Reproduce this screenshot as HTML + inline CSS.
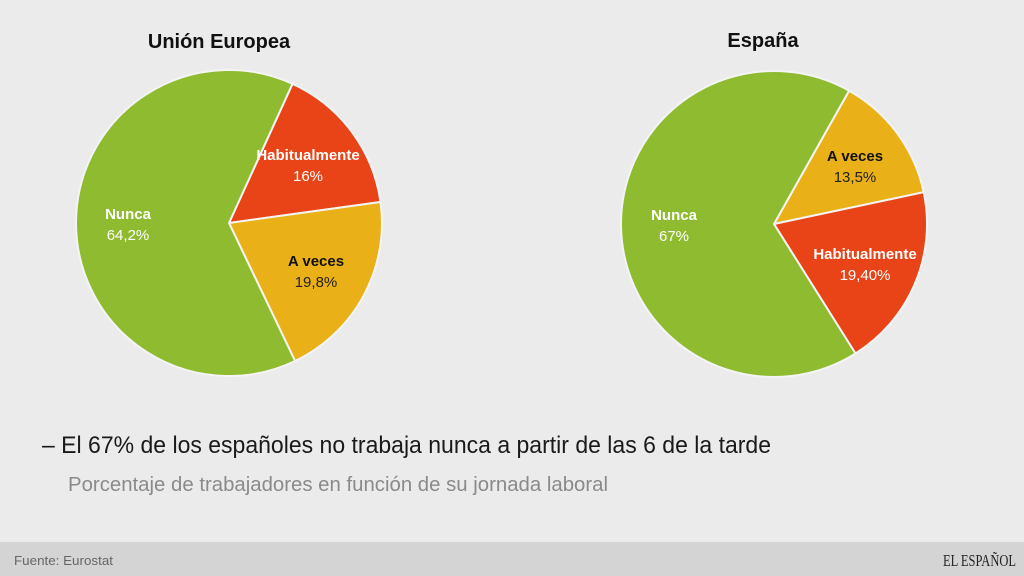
<!DOCTYPE html>
<html><head><meta charset="utf-8"><style>
html,body{margin:0;padding:0;width:1024px;height:576px;overflow:hidden;background:#ebebeb;font-family:"Liberation Sans",sans-serif}
.foot{position:absolute;left:0;top:542px;width:1024px;height:34px;background:#d4d4d4}
</style></head><body>
<svg width="1024" height="576" style="position:absolute;left:0;top:0" font-family="Liberation Sans, sans-serif">
<text x="219" y="48" font-size="20" font-weight="bold" text-anchor="middle" fill="#111">Unión Europea</text>
<text x="763" y="47" font-size="20" font-weight="bold" text-anchor="middle" fill="#111">España</text>
<g stroke="#f4f4f4" stroke-width="2" stroke-linejoin="round">
<path d="M229,223 L292.5,83.8 A153,153 0 0 1 380.5,202 Z" fill="#e84417"/>
<path d="M229,223 L380.5,202 A153,153 0 0 1 295.1,361 Z" fill="#e9b117"/>
<path d="M229,223 L295.1,361 A153,153 0 1 1 292.5,83.8 Z" fill="#8fbb30"/>
<path d="M774,224 L849.1,90.7 A153,153 0 0 1 923.7,192.2 Z" fill="#e9b117"/>
<path d="M774,224 L923.7,192.2 A153,153 0 0 1 855.5,353.5 Z" fill="#e84417"/>
<path d="M774,224 L855.5,353.5 A153,153 0 1 1 849.1,90.7 Z" fill="#8fbb30"/>
</g>
<g font-size="15" text-anchor="middle">
<text x="128" y="219" font-weight="bold" fill="#fff">Nunca</text>
<text x="128" y="240" fill="#fff">64,2%</text>
<text x="308" y="160" font-weight="bold" fill="#fff">Habitualmente</text>
<text x="308" y="181" fill="#fff">16%</text>
<text x="316" y="266" font-weight="bold" fill="#111">A veces</text>
<text x="316" y="287" fill="#222">19,8%</text>
<text x="674" y="220" font-weight="bold" fill="#fff">Nunca</text>
<text x="674" y="241" fill="#fff">67%</text>
<text x="855" y="161" font-weight="bold" fill="#111">A veces</text>
<text x="855" y="182" fill="#222">13,5%</text>
<text x="865" y="259" font-weight="bold" fill="#fff">Habitualmente</text>
<text x="865" y="280" fill="#fff">19,40%</text>
</g>
<text x="42" y="453" font-size="24" font-weight="500" fill="#1a1a1a" textLength="729" lengthAdjust="spacingAndGlyphs">– El 67% de los españoles no trabaja nunca a partir de las 6 de la tarde</text>
<text x="68" y="491" font-size="20" fill="#8a8a8a" textLength="540" lengthAdjust="spacingAndGlyphs">Porcentaje de trabajadores en función de su jornada laboral</text>
</svg>
<div class="foot"></div>
<svg width="1024" height="576" style="position:absolute;left:0;top:0">
<text x="14" y="565" font-family="Liberation Sans, sans-serif" font-size="13" fill="#666" textLength="99" lengthAdjust="spacingAndGlyphs">Fuente: Eurostat</text>
<text x="943" y="566" font-family="Liberation Serif, serif" font-size="17" fill="#222" textLength="73" lengthAdjust="spacingAndGlyphs">EL ESPAÑOL</text>
</svg>
</body></html>
